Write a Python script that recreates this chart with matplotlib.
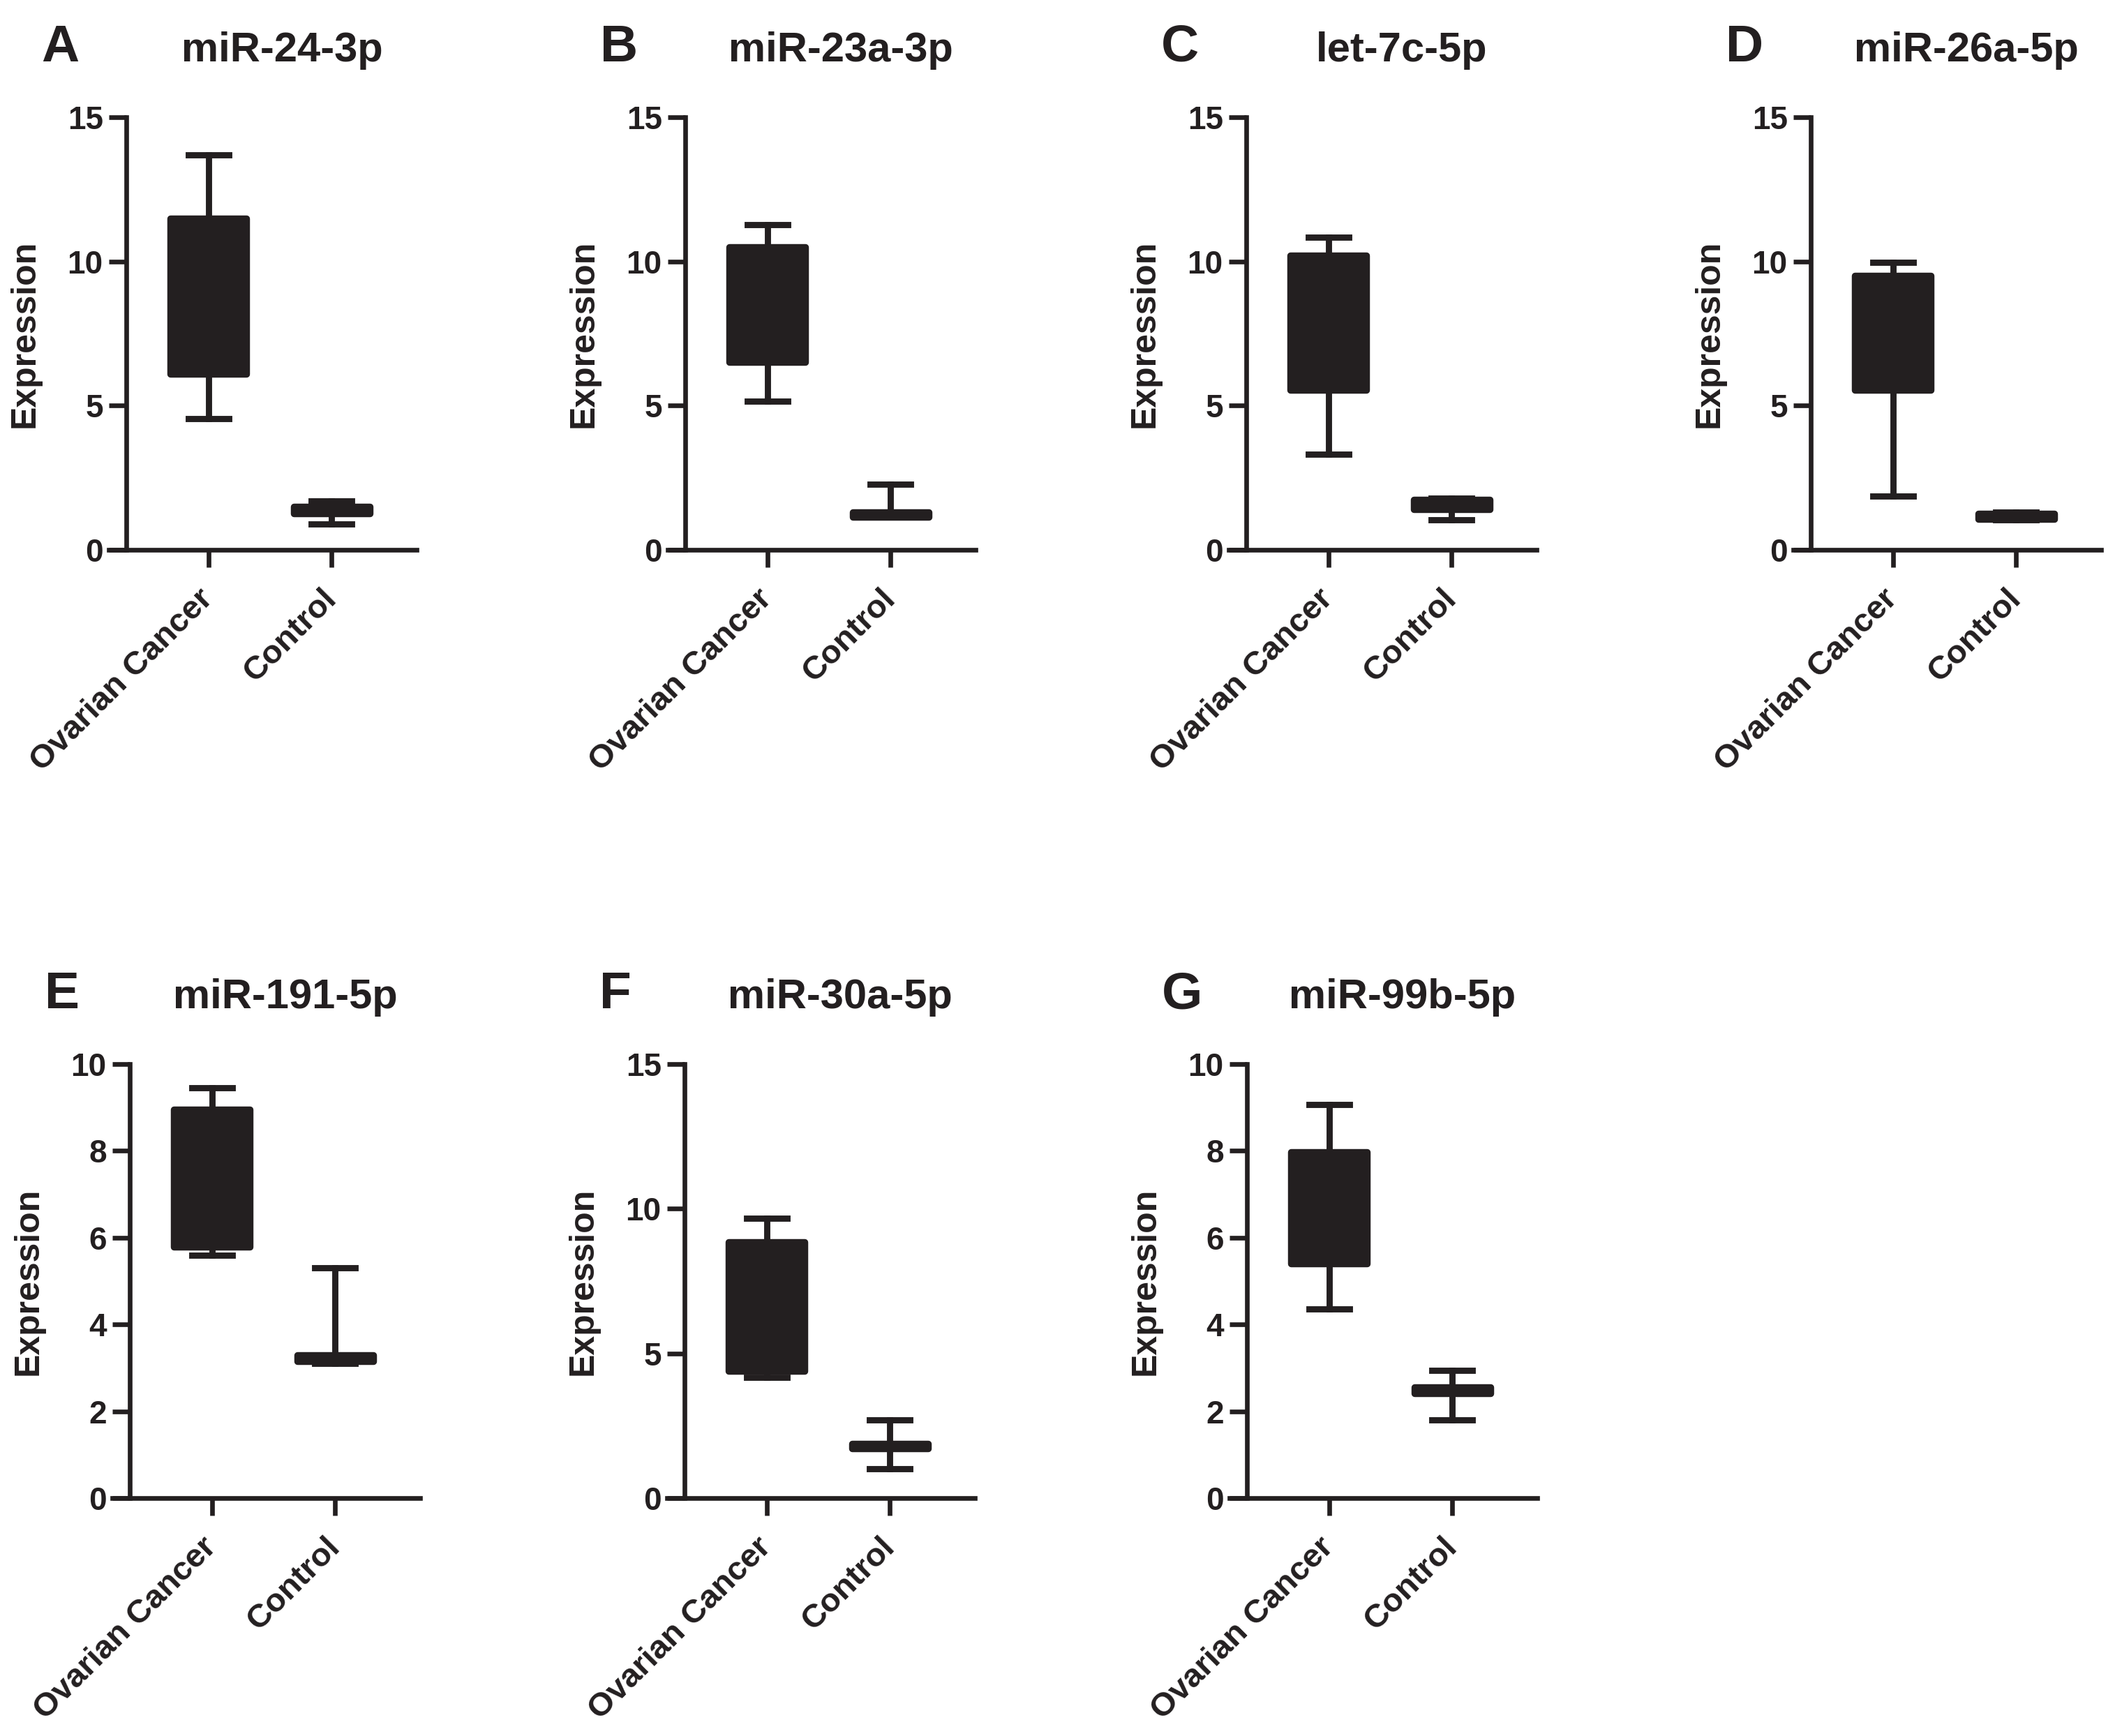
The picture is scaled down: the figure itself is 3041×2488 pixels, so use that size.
import matplotlib
matplotlib.use("Agg")
import matplotlib.pyplot as plt

W, H = 3041, 2488
INK = "#231f20"

plt.rcParams['font.family'] = ['Liberation Sans', 'DejaVu Sans']
plt.rcParams['font.weight'] = 'bold'

genes = ['miR-24-3p', 'miR-23a-3p', 'let-7c-5p', 'miR-26a-5p',
         'miR-191-5p', 'miR-30a-5p', 'miR-99b-5p']
letters = ['A', 'B', 'C', 'D', 'E', 'F', 'G']
groups = ['Ovarian Cancer', 'Control']
y_max = [15, 15, 15, 15, 10, 15, 10]
y_step = [5, 5, 5, 5, 2, 5, 2]

# box stats per panel: whislo, q1, med, q3, whishi
ovarian = [
    [4.55, 6.10, 8.8, 11.50, 13.69],
    [5.15, 6.50, 8.5, 10.50, 11.28],
    [3.32, 5.55, 8.0, 10.20, 10.85],
    [1.87, 5.55, 7.5, 9.52, 9.96],
    [5.59, 5.78, 7.4, 8.95, 9.45],
    [4.16, 4.40, 6.6, 8.84, 9.66],
    [4.36, 5.40, 6.7, 7.97, 9.06],
]
control = [
    [0.89, 1.26, 1.38, 1.50, 1.70],
    [1.13, 1.13, 1.20, 1.30, 2.27],
    [1.03, 1.40, 1.55, 1.73, 1.80],
    [1.05, 1.07, 1.15, 1.25, 1.30],
    [3.10, 3.15, 3.22, 3.30, 5.30],
    [1.02, 1.71, 1.79, 1.87, 2.71],
    [1.80, 2.41, 2.48, 2.55, 2.95],
]

# layout (pixels in the output image)
yaxis_px = [181, 982, 1786, 2595, 186, 981, 1787]
top_px = [168, 168, 168, 168, 1525, 1525, 1525]
bot_px = [788, 788, 788, 788, 2147, 2147, 2147]
cat_px = 176.5
x_lo, x_spine, x_hi = 0.19, 0.333, 2.69

fig = plt.figure(figsize=(W / 200, H / 200), dpi=200)

for i in range(len(genes)):
    left = yaxis_px[i] - (x_spine - x_lo) * cat_px
    width = (x_hi - x_lo) * cat_px
    ax = fig.add_axes([left / W, 1 - bot_px[i] / H, width / W,
                       (bot_px[i] - top_px[i]) / H])

    stats = []
    for name, s in zip(groups, [ovarian[i], control[i]]):
        stats.append({'label': name, 'whislo': s[0], 'q1': s[1], 'med': s[2],
                      'q3': s[3], 'whishi': s[4], 'fliers': []})

    ax.bxp(stats, positions=[1, 2], widths=0.62, capwidths=0.33,
           patch_artist=True, showfliers=False,
           boxprops=dict(facecolor=INK, edgecolor=INK, linewidth=3.4,
                         joinstyle='round'),
           whiskerprops=dict(color=INK, linewidth=3.2),
           capprops=dict(color=INK, linewidth=3.2),
           medianprops=dict(color=INK, linewidth=1))

    ax.set_xlim(x_lo, x_hi)
    ax.set_ylim(0, y_max[i])
    ax.set_yticks(range(0, y_max[i] + 1, y_step[i]))
    ax.set_xticks([1, 2])
    ax.set_xticklabels(groups, rotation=45, ha='right', va='center',
                       rotation_mode='anchor')

    ax.spines['top'].set_visible(False)
    ax.spines['right'].set_visible(False)
    ax.spines['left'].set_position(('data', x_spine))
    for sp in ['left', 'bottom']:
        ax.spines[sp].set_linewidth(2.4)
        ax.spines[sp].set_color(INK)
    ax.tick_params(axis='both', length=9, width=2.4, color=INK, labelcolor=INK)
    ax.tick_params(axis='y', pad=3, labelsize=16.5)
    ax.tick_params(axis='x', pad=14, labelsize=17)

    ax.set_ylabel('Expression', fontsize=18, fontweight='bold', color=INK)
    ax.yaxis.set_label_coords(-0.22, 0.5)

    base_y = 1 - (top_px[i] - 80) / H
    fig.text((yaxis_px[i] - 122) / W, base_y, letters[i], fontsize=27,
             fontweight='bold', color=INK, ha='left', va='baseline')
    fig.text((yaxis_px[i] + 223) / W, base_y, genes[i], fontsize=21.5,
             fontweight='bold', color=INK, ha='center', va='baseline')

fig.savefig("out.png", dpi=200, facecolor='white')
plt.close(fig)
